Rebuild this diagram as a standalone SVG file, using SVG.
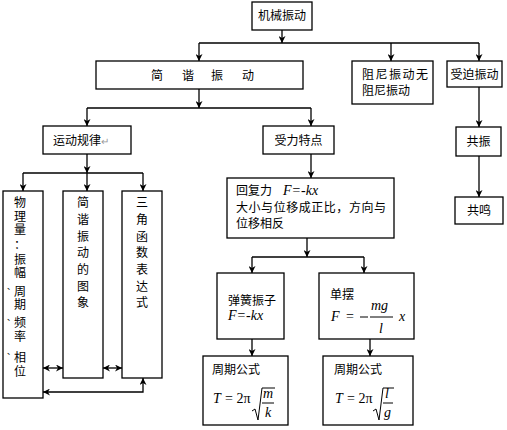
<svg xmlns="http://www.w3.org/2000/svg" width="507" height="430" viewBox="0 0 507 430">
<defs>
<marker id="ah" viewBox="0 0 10 10" refX="10" refY="5" markerWidth="7" markerHeight="7" markerUnits="userSpaceOnUse" orient="auto-start-reverse">
<path d="M0,0 L10,5 L0,10 L3,5 Z" fill="#000"/>
</marker>
<style>
rect{fill:#fff;stroke:#000;stroke-width:1.3}
.c path,.c line{fill:none;stroke:#000;stroke-width:1.3}
.a{marker-end:url(#ah)}
.b{marker-start:url(#ah);marker-end:url(#ah)}
text{font-family:"Noto Sans CJK SC","Liberation Sans",sans-serif;font-size:12px;fill:#000}
.m{font-family:"Liberation Serif","DejaVu Serif",serif;font-size:14px}
.i{font-style:italic}
.v{text-anchor:middle}
.p{font-size:8px}
</style>
</defs>
<g class="c" id="connectors">
<line class="a" x1="282" y1="30" x2="282" y2="43"/>
<line x1="199" y1="43" x2="479" y2="43"/>
<line class="a" x1="199" y1="43" x2="199" y2="61"/>
<line class="a" x1="391" y1="43" x2="391" y2="61"/>
<line class="a" x1="479" y1="43" x2="479" y2="61"/>
<line class="a" x1="199" y1="89" x2="199" y2="108"/>
<line x1="87" y1="108" x2="311" y2="108"/>
<line class="a" x1="87" y1="108" x2="87" y2="126"/>
<line class="a" x1="311" y1="108" x2="311" y2="126"/>
<line class="a" x1="87" y1="154" x2="87" y2="173"/>
<line x1="23" y1="173" x2="143" y2="173"/>
<line class="a" x1="23" y1="173" x2="23" y2="191"/>
<line class="a" x1="87" y1="173" x2="87" y2="191"/>
<line class="a" x1="143" y1="173" x2="143" y2="191"/>
<line class="b" x1="43" y1="368" x2="63" y2="368"/>
<line class="b" x1="103" y1="368" x2="122" y2="368"/>
<path class="b" d="M43,392 L143,392 L143,378"/>
<line class="a" x1="479" y1="87" x2="479" y2="127"/>
<line class="a" x1="479" y1="156" x2="479" y2="197"/>
<line class="a" x1="311" y1="154" x2="311" y2="178"/>
<line class="a" x1="307" y1="238" x2="307" y2="257"/>
<line x1="252" y1="257" x2="364" y2="257"/>
<line class="a" x1="252" y1="257" x2="252" y2="273"/>
<line class="a" x1="364" y1="257" x2="364" y2="273"/>
<line class="a" x1="252" y1="339" x2="252" y2="356"/>
<line class="a" x1="370" y1="339" x2="370" y2="356"/>
</g>
<g id="n-jixie"><rect x="252" y="2" width="60" height="28"/><text x="282" y="20" class="v">机械振动</text></g>
<g id="n-jianxie"><rect x="96" y="61" width="207" height="28"/><text x="151" y="80">简</text><text x="182" y="80">谐</text><text x="211" y="80">振</text><text x="242" y="80">动</text></g>
<g id="n-zuni"><rect x="352" y="61" width="81" height="43"/><text x="362" y="79" textLength="66" lengthAdjust="spacing">阻尼振动无</text><text x="362" y="95">阻尼振动</text></g>
<g id="n-shoupo"><rect x="447" y="61" width="55" height="26"/><text x="474.5" y="79" class="v">受迫振动</text></g>
<g id="n-yundong"><rect x="43" y="126" width="88" height="28"/><text x="53" y="145">运动规律<tspan fill="#999" font-size="10">↵</tspan></text></g>
<g id="n-shouli"><rect x="263" y="126" width="71" height="28"/><text x="298.5" y="145" class="v">受力特点</text></g>
<g id="n-gongzhen"><rect x="456" y="127" width="45" height="29"/><text x="478.5" y="146" class="v">共振</text></g>
<g id="n-gongming"><rect x="455" y="197" width="48" height="27"/><text x="479" y="215" class="v">共鸣</text></g>
<g id="n-wuli"><rect x="3" y="191" width="40" height="207"/>
<text class="v" x="20" y="207">物</text><text class="v" x="20" y="221">理</text><text class="v" x="20" y="234">量</text><text class="v" x="20" y="249">：</text><text class="v" x="20" y="264">振</text><text class="v" x="20" y="277">幅</text><text class="p" x="7" y="289">、</text><text class="v" x="20" y="296">周</text><text class="v" x="20" y="309">期</text><text class="p" x="7" y="320">、</text><text class="v" x="20" y="327">频</text><text class="v" x="20" y="341">率</text><text class="p" x="7" y="354">、</text><text class="v" x="20" y="362">相</text><text class="v" x="20" y="376">位</text></g>
<g id="n-tuxiang"><rect x="63" y="191" width="40" height="187"/>
<text class="v" x="83" y="207">简</text><text class="v" x="83" y="224">谐</text><text class="v" x="83" y="241">振</text><text class="v" x="83" y="257">动</text><text class="v" x="83" y="274">的</text><text class="v" x="83" y="291">图</text><text class="v" x="83" y="307">象</text></g>
<g id="n-sanjiao"><rect x="122" y="191" width="40" height="187"/>
<text class="v" x="142" y="207">三</text><text class="v" x="142" y="224">角</text><text class="v" x="142" y="241">函</text><text class="v" x="142" y="257">数</text><text class="v" x="142" y="274">表</text><text class="v" x="142" y="291">达</text><text class="v" x="142" y="307">式</text></g>
<g id="n-huifuli"><rect x="227" y="178" width="167" height="60"/>
<text x="236" y="195">回复力</text><text x="283" y="195" class="m i" font-size="12">F=-kx</text>
<text x="236" y="212" textLength="150" lengthAdjust="spacing">大小与位移成正比，方向与</text>
<text x="236" y="228">位移相反</text></g>
<g id="n-tanhuang"><rect x="217" y="273" width="67" height="66"/>
<text x="228" y="305">弹簧振子</text><text x="228" y="320" class="m i">F=-kx</text></g>
<g id="n-danbai"><rect x="319" y="273" width="95" height="66"/>
<text x="330" y="299">单摆</text>
<text x="331" y="321" class="m i">F</text><text x="346" y="321" class="m">=</text><line x1="360" y1="317" x2="368" y2="317" stroke="#000" stroke-width="1"/>
<text x="371" y="310" class="m i">mg</text><line x1="370" y1="317" x2="393" y2="317" stroke="#000" stroke-width="1"/>
<text x="379" y="333" class="m i">l</text><text x="399" y="321" class="m i">x</text></g>
<g id="n-zhouqi1"><rect x="203" y="356" width="85" height="69"/>
<text x="212" y="374">周期公式</text>
<text x="213" y="403" class="m i">T</text><text x="225" y="403" class="m">= 2π</text>
<path d="M252,411 L255,409 L258,420 L262,388 L275,388" fill="none" stroke="#000" stroke-width="1"/>
<text x="263" y="398" class="m i">m</text><line x1="262" y1="403" x2="274" y2="403" stroke="#000" stroke-width="1"/>
<text x="265" y="417" class="m i">k</text></g>
<g id="n-zhouqi2"><rect x="323" y="356" width="90" height="69"/>
<text x="334" y="374">周期公式</text>
<text x="335" y="403" class="m i">T</text><text x="347" y="403" class="m">= 2π</text>
<path d="M373,411 L376,409 L379,420 L383,388 L394,388" fill="none" stroke="#000" stroke-width="1"/>
<text x="385" y="398" class="m i">l</text><line x1="383" y1="403" x2="393" y2="403" stroke="#000" stroke-width="1"/>
<text x="384" y="417" class="m i">g</text></g>
</svg>
